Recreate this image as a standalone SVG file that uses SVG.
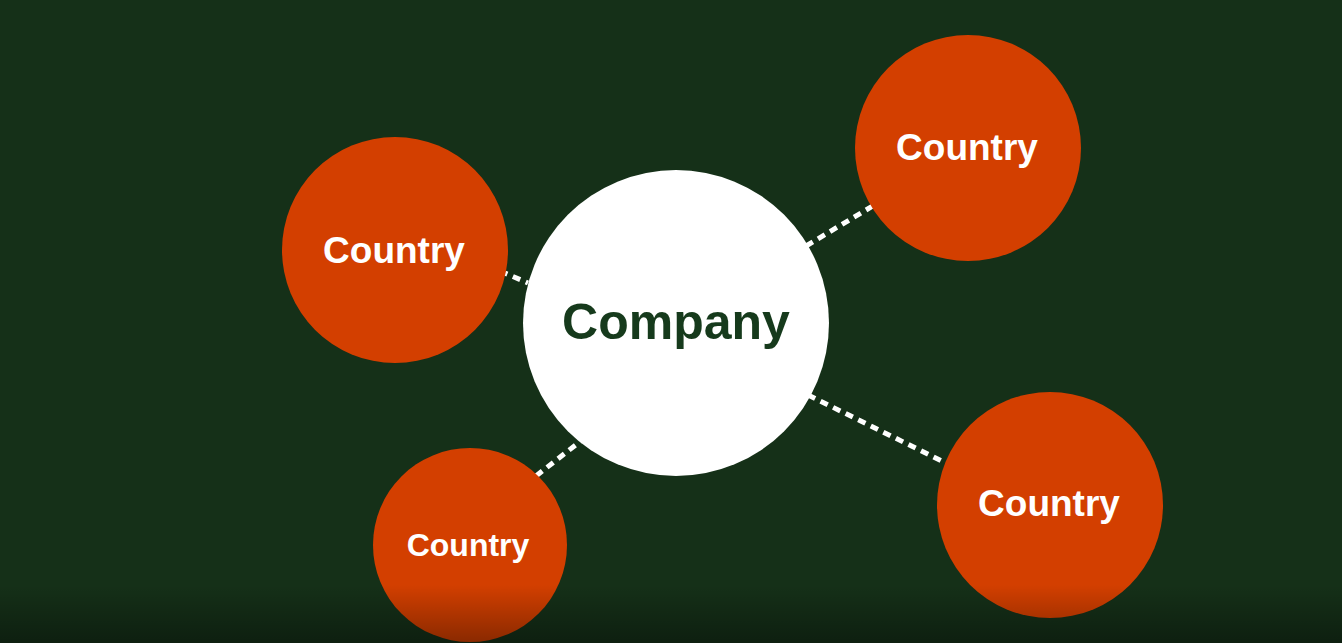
<svg xmlns="http://www.w3.org/2000/svg" width="1342" height="643" viewBox="0 0 1342 643">
<defs>
<linearGradient id="shade" x1="0" y1="0" x2="0" y2="1">
<stop offset="0" stop-color="#000" stop-opacity="0"/>
<stop offset="1" stop-color="#000" stop-opacity="0.35"/>
</linearGradient>
<style>
.bg{fill:#153018}
.country{fill:#d33f00}
.company{fill:#ffffff}
.conn{stroke:#ffffff;stroke-width:5;stroke-dasharray:8 6;fill:none}
.ct{font-family:"Liberation Sans",Arial,sans-serif;font-weight:700;fill:#ffffff;text-anchor:middle}
.cp{font-family:"Liberation Sans",Arial,sans-serif;font-weight:700;fill:#163a1c;text-anchor:middle;font-size:50px}
</style>
</defs>
<rect class="bg" x="0" y="0" width="1342" height="643"/>
<g id="connectors">
<line class="conn" x1="500" y1="271" x2="528" y2="283"/>
<line class="conn" x1="806" y1="246" x2="876" y2="204"/>
<line class="conn" x1="536" y1="476" x2="582" y2="440"/>
<line class="conn" x1="808" y1="395" x2="950" y2="465"/>
</g>
<g id="company">
<circle class="company" cx="676" cy="323" r="153"/>
<text class="cp" x="676" y="339">Company</text>
</g>
<g id="country-tl">
<circle class="country" cx="395" cy="250" r="113"/>
<text class="ct" x="394" y="263" font-size="37">Country</text>
</g>
<g id="country-tr">
<circle class="country" cx="968" cy="148" r="113"/>
<text class="ct" x="967" y="160" font-size="37">Country</text>
</g>
<g id="country-bl">
<circle class="country" cx="470" cy="545" r="97"/>
<text class="ct" x="468" y="556" font-size="32">Country</text>
</g>
<g id="country-br">
<circle class="country" cx="1050" cy="505" r="113"/>
<text class="ct" x="1049" y="516" font-size="37">Country</text>
</g>
<rect x="0" y="585" width="1342" height="58" fill="url(#shade)"/>
</svg>
